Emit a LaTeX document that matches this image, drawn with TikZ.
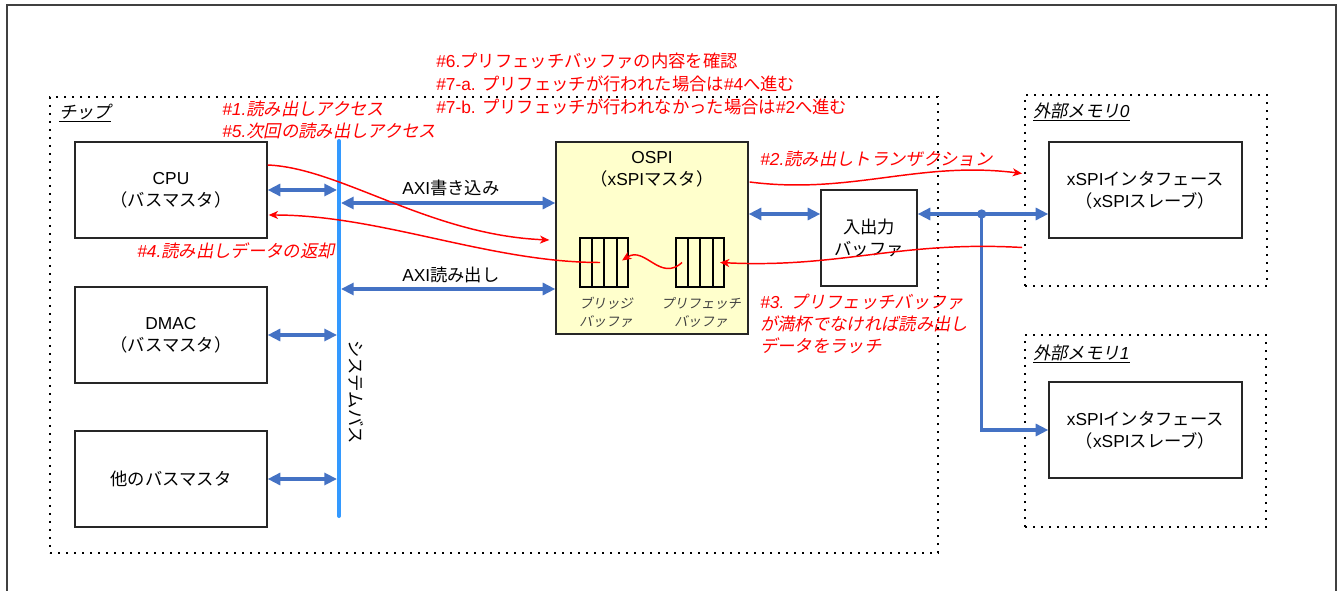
\documentclass[tikz,border=0pt]{standalone}
\usepackage{fontspec}
\setmainfont{Noto Sans CJK JP}[ItalicFont={Noto Sans CJK JP},ItalicFeatures={FakeSlant=0.2}]
\newfontfamily\latfont{Liberation Sans}
\newcommand\eng[1]{{\latfont #1}}
\usepackage{tikz}
\usetikzlibrary{arrows.meta,calc}
\definecolor{ospiFill}{HTML}{FFFFCC}
\definecolor{busBlue}{HTML}{3399FF}
\definecolor{wireBlue}{HTML}{4472C4}
\definecolor{noteRed}{HTML}{FF0000}
\definecolor{boxEdge}{HTML}{262626}
\definecolor{bufText}{HTML}{404040}
\definecolor{frameGray}{HTML}{404040}
\tikzset{
  blk/.style={draw=boxEdge,line width=1pt,fill=white,inner sep=0pt,align=center,
              minimum width=144pt,minimum height=72pt,font=\fontsize{13}{16.5}\selectfont},
  fifo/.style={draw=black,line width=1.5pt,inner sep=0pt,minimum width=36pt,minimum height=36.75pt},
  zone/.style={draw=black,line width=1.4pt,dash pattern=on 1.4pt off 4.6pt,inner sep=0pt},
  tag/.style={inner sep=0pt,align=center,font=\fontsize{13}{16.5}\selectfont},
  zonetag/.style={tag,anchor=west,font=\fontsize{13}{16.5}\selectfont\itshape},
  buftag/.style={tag,text=bufText,font=\fontsize{10}{13.5}\selectfont\itshape},
  note/.style={inner sep=0pt,align=left,anchor=west,text=noteRed,font=\fontsize{13}{17}\selectfont},
  noteit/.style={note,font=\fontsize{13}{16.5}\selectfont\itshape},
  busln/.style={draw=busBlue,line width=3pt,line cap=round},
  wire/.style={draw=wireBlue,line width=2.3pt},
  link/.style={wire,{Triangle[length=9.5pt,width=9pt]}-{Triangle[length=9.5pt,width=9pt]}},
  feed/.style={wire,-{Triangle[length=9.5pt,width=9pt]}},
  flow/.style={draw=noteRed,line width=1.1pt,-{Stealth[length=7pt,width=6pt,inset=2pt]}},
}
\begin{document}
\begin{tikzpicture}[x=0.75pt,y=-0.75pt]
  \useasboundingbox (0,0) rectangle (1341,591);
  \draw[frameGray,line width=1.5pt] (7,591) -- (7,5) -- (1336,5) -- (1336,591);

  \node[zone,minimum width=666pt,minimum height=342pt] (chip) at (494,325) {};
  \node[zone,minimum width=181.5pt,minimum height=143.25pt] (memA) at (1146,190.5) {};
  \node[zone,minimum width=180.75pt,minimum height=144pt] (memB) at (1145.5,431) {};
  \node[zonetag] (chipT) at (59,113) {\underline{チップ}};
  \node[zonetag] (memAT) at (1033,112) {\underline{外部メモリ\eng{0}}};
  \node[zonetag] (memBT) at (1033,354) {\underline{外部メモリ\eng{1}}};

  \node[blk] (cpu) at (171,190) {\eng{CPU}\\（バスマスタ）};
  \node[blk] (dmac) at (171,335) {\eng{DMAC}\\（バスマスタ）};
  \node[blk] (other) at (171,479) {他のバスマスタ};
  \node[blk,fill=ospiFill,minimum height=144pt] (ospi) at (652,238) {};
  \node[tag] (ospiT) at ($(ospi.north)+(0,28)$) {\eng{OSPI}\\（\eng{xSPI}マスタ）};
  \node[blk,minimum width=72pt] (iobuf) at (869,238) {入出力\\バッファ};
  \node[blk,minimum width=144.75pt] (slvA) at (1145.5,190) {\eng{xSPI}インタフェース\\（\eng{xSPI}スレーブ）};
  \node[blk,minimum width=144.75pt] (slvB) at (1145.5,430) {\eng{xSPI}インタフェース\\（\eng{xSPI}スレーブ）};

  \node[fifo] (brg) at (604,262.5) {};
  \node[fifo] (pre) at (700,262.5) {};
  \foreach \b in {brg,pre}{
    \foreach \i in {1,2,3}{\draw[line width=1.5pt] ($(\b.north west)!\i/4!(\b.north east)$) -- ($(\b.south west)!\i/4!(\b.south east)$);}
  }
  \node[buftag] (brgT) at ($(brg.south)+(2,24)$) {ブリッジ\\バッファ};
  \node[buftag] (preT) at ($(pre.south)+(1,24)$) {プリフェッチ\\バッファ};

  % system bus and its masters
  \coordinate (busTop) at (339,141);
  \coordinate (busBot) at (339,516);
  \draw[busln] (busTop) -- (busBot);
  \node[tag,rotate=-90] (busT) at (356,392) {システムバス};
  \foreach \m in {cpu,dmac,other}{\draw[link,shorten >=1.5pt] (\m.east) -- (\m.east -| busTop);}

  \coordinate (axiW) at ($(ospi.west)+(0,-35)$);
  \coordinate (axiR) at ($(ospi.west)+(0,51)$);
  \draw[link,shorten <=1.5pt] (axiW -| busTop) -- (axiW);
  \draw[link,shorten <=1.5pt] (axiR -| busTop) -- (axiR);
  \node[tag] (axiWT) at (451,188) {\eng{AXI}書き込み};
  \node[tag] (axiRT) at (451,275) {\eng{AXI}読み出し};

  \draw[link] ($(ospi.east)+(0,-24)$) -- ($(iobuf.west)+(0,-24)$);
  \coordinate (ioR) at ($(iobuf.east)+(0,-24)$);
  \coordinate (jn) at ($(ioR)+(64,0)$);
  \draw[link] (ioR) -- (ioR -| slvA.west);
  \draw[feed] (jn) |- (slvB.west);
  \fill[wireBlue] (jn) circle (3.5pt);

  % read flow
  \draw[flow] ($(cpu.east)+(0,-25)$) .. controls +(73,3) and +(-120,-5) .. ($(ospi.west)+(-6,2)$);
  \draw[flow] ($(ospi.east)+(1,-56)$) .. controls +(101,13) and +(-103,-13) .. ($(memA.west)+(-2,-17)$);
  \draw[flow] ($(memA.west)+(-2,57)$) .. controls +(-123,-7) and +(120,6) .. ($(pre)+(20,0)$);
  \draw[flow] ($(pre)+(-18,0)$) .. controls +(-22,20) and +(23,-15) .. ($(brg)+(18,-2)$);
  \draw[flow] ($(brg)+(-4,0)$) .. controls +(-110,0) and +(112,0) .. ($(cpu.east)+(1,25)$);

  \node[noteit] (n1) at (222,120) {\eng{\#1.}読み出しアクセス\\\eng{\#5.}次回の読み出しアクセス};
  \node[noteit] (n4) at (137,251) {\eng{\#4.}読み出しデータの返却};
  \node[noteit] (n2) at (760,159) {\eng{\#2.}読み出しトランザクション};
  \node[noteit] (n3) at (760,323.5) {\eng{\#3. }プリフェッチバッファ\\が満杯でなければ読み出し\\データをラッチ};
  \node[note] (n6) at (436,84) {\eng{\#6.}プリフェッチバッファの内容を確認\\
        \eng{\#7-a. }プリフェッチが行われた場合は\eng{\#4}へ進む\\
        \eng{\#7-b. }プリフェッチが行われなかった場合は\eng{\#2}へ進む};
\end{tikzpicture}
\end{document}
